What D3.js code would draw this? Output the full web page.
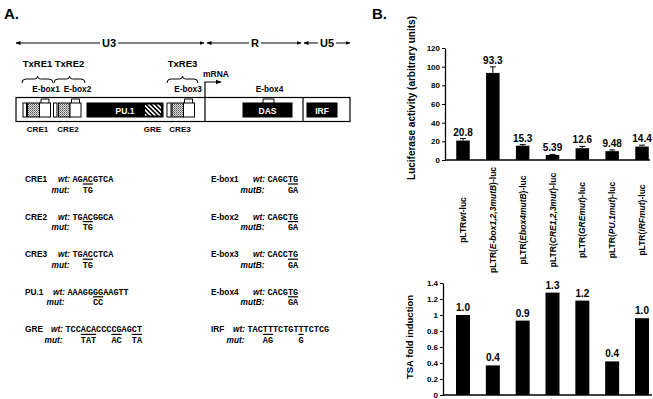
<!DOCTYPE html>
<html lang="en">
<head>
<meta charset="utf-8">
<title>HTLV-1 LTR reporter constructs</title>
<script src="https://d3js.org/d3.v7.min.js"></script>
<style>
  body { margin: 0; background: #fff; }
  text { font-family: "Liberation Sans", Arial, sans-serif; font-weight: bold; }
  .seq { font-family: "Liberation Mono", "Courier New", monospace; }
</style>
</head>
<body>
<script>
// ---- chart data (panel B) ----
var constructs = ["wt", "E-box1,2,3mutB", "Ebox4mutB", "CRE1,2,3mut", "GREmut", "PU.1mut", "IRFmut"];
var lucValues = [20.8, 93.3, 15.3, 5.39, 12.6, 9.48, 14.4];
var lucErrors = [2.2, 6.5, 1.2, 0.6, 2.0, 1.3, 1.5];
var lucLabels = ["20.8", "93.3", "15.3", "5.39", "12.6", "9.48", "14.4"];
var lucTicks = [0, 20, 40, 60, 80, 100, 120];
var tsaValues = [1.0, 0.37, 0.93, 1.28, 1.18, 0.42, 0.96];
var tsaLabels = ["1.0", "0.4", "0.9", "1.3", "1.2", "0.4", "1.0"];
var tsaTicks = [0, 0.2, 0.4, 0.6, 0.8, 1, 1.2, 1.4];

// ---- sequence data (panel A) ----
var seqLeft = [
  {name: "CRE1", lab: "mut:", wt: "AGACGTCA", mut: "  TG"},
  {name: "CRE2", lab: "mut:", wt: "TGACGGCA", mut: "  TG"},
  {name: "CRE3", lab: "mut:", wt: "TGACCTCA", mut: "  TG"},
  {name: "PU.1", lab: "mut:", wt: "AAAGGGGAAGTT", mut: "     CC"},
  {name: "GRE",  lab: "mut:", wt: "TCCACACCCCGAGCT", mut: "   TAT   AC  TA"}
];
var seqRight = [
  {name: "E-box1", lab: "mutB:", wt: "CAGCTG", mut: "    GA"},
  {name: "E-box2", lab: "mutB:", wt: "CAGCTG", mut: "    GA"},
  {name: "E-box3", lab: "mutB:", wt: "CACCTG", mut: "    GA"},
  {name: "E-box4", lab: "mutB:", wt: "CACGTG", mut: "    GA"},
  {name: "IRF",    lab: "mut:",  wt: "TACTTTCTGTTTCTCG", mut: "   AG     G"}
];
// where the "wt:" label starts on each row
var wtLabelX = {"CRE1": 58, "CRE2": 58, "CRE3": 58, "PU.1": 53, "GRE": 51,
  "E-box1": 253, "E-box2": 253, "E-box3": 253, "E-box4": 253, "IRF": 233};

var svg = d3.select("body").append("svg")
    .attr("width", 653).attr("height", 399);
svg.append("rect").attr("width", 653).attr("height", 399).attr("fill", "#fff");

var defs = svg.append("defs");
var stip = defs.append("pattern").attr("id", "stip")
    .attr("width", 2).attr("height", 2).attr("patternUnits", "userSpaceOnUse");
stip.append("rect").attr("width", 2).attr("height", 2).attr("fill", "#ddd");
stip.append("rect").attr("width", 1).attr("height", 1).attr("fill", "#555");
stip.append("rect").attr("x", 1).attr("y", 1).attr("width", 1).attr("height", 1).attr("fill", "#888");
var hatch = defs.append("pattern").attr("id", "hatch")
    .attr("width", 3.2).attr("height", 3.2).attr("patternUnits", "userSpaceOnUse")
    .attr("patternTransform", "rotate(-45)");
hatch.append("rect").attr("width", 3.2).attr("height", 3.2).attr("fill", "#fff");
hatch.append("rect").attr("width", 1.6).attr("height", 3.2).attr("fill", "#000");
defs.append("marker").attr("id", "ah")
    .attr("viewBox", "0 0 10 10").attr("refX", 9).attr("refY", 5)
    .attr("markerWidth", 5).attr("markerHeight", 5).attr("orient", "auto-start-reverse")
    .append("path").attr("d", "M0,1 L10,5 L0,9 z").attr("fill", "#000");

// panel letters
svg.append("text").attr("x", 4).attr("y", 19).attr("font-size", 15).text("A.");
svg.append("text").attr("x", 372).attr("y", 19).attr("font-size", 15).text("B.");

// ================= Panel A: LTR schematic =================
var A = svg.append("g");

// U3 / R / U5 arrows
[[16, 204, 109, "U3"], [207, 301, 255, "R"], [304, 350, 327, "U5"]].forEach(function(r) {
  A.append("line").attr("x1", r[0]).attr("x2", r[1]).attr("y1", 43).attr("y2", 43)
    .attr("stroke", "#000").attr("stroke-width", 1)
    .attr("marker-start", "url(#ah)").attr("marker-end", "url(#ah)");
  var t = A.append("text").attr("x", r[2]).attr("y", 47).attr("font-size", 11)
    .attr("text-anchor", "middle").text(r[3]);
  var bb = t.node().getBBox();
  A.insert("rect", function() { return t.node(); })
    .attr("x", bb.x - 2).attr("y", bb.y).attr("width", bb.width + 4).attr("height", bb.height)
    .attr("fill", "#fff");
});

// TxRE braces
function brace(x0, x1, y) {
  var m = (x0 + x1) / 2;
  return "M" + x0 + "," + (y + 4) + " Q" + x0 + "," + y + " " + (x0 + 4) + "," + y +
    " L" + (m - 3) + "," + y + " Q" + m + "," + y + " " + m + "," + (y - 3) +
    " Q" + m + "," + y + " " + (m + 3) + "," + y +
    " L" + (x1 - 4) + "," + y + " Q" + x1 + "," + y + " " + x1 + "," + (y + 4);
}
[[22, 53, "TxRE1"], [54, 85, "TxRE2"], [167, 198, "TxRE3"]].forEach(function(b) {
  A.append("path").attr("d", brace(b[0], b[1], 79)).attr("fill", "none")
    .attr("stroke", "#000").attr("stroke-width", 1);
  A.append("text").attr("x", (b[0] + b[1]) / 2).attr("y", 67).attr("font-size", 9.5)
    .attr("text-anchor", "middle").text(b[2]);
});

// E-box labels
[[46, "E-box1"], [77.5, "E-box2"], [188, "E-box3"], [269.5, "E-box4"]].forEach(function(e) {
  A.append("text").attr("x", e[0]).attr("y", 92).attr("font-size", 8.3)
    .attr("text-anchor", "middle").text(e[1]);
});

// main box
A.append("rect").attr("x", 16).attr("y", 97.5).attr("width", 334).attr("height", 24)
  .attr("fill", "#fff").attr("stroke", "#000").attr("stroke-width", 1.2);
A.append("line").attr("x1", 303).attr("x2", 303).attr("y1", 97.5).attr("y2", 121.5)
  .attr("stroke", "#000").attr("stroke-width", 1.2);
// transcription start / mRNA
A.append("path").attr("d", "M205,121.5 V82 H221").attr("fill", "none")
  .attr("stroke", "#000").attr("stroke-width", 1.2).attr("marker-end", "url(#ah)");
A.append("text").attr("x", 203).attr("y", 77).attr("font-size", 8.5).text("mRNA");

// inner elements
var parts = [
  [23, 26.5, "#fff"], [27.5, 39.5, "url(#stip)"], [39.5, 50.5, "#fff"],
  [53.5, 57, "#fff"], [58.5, 70, "url(#stip)"], [70, 81, "#fff"],
  [87, 163, "#000"],
  [167, 171, "#fff"], [172, 183.5, "url(#stip)"], [183.5, 194.5, "#fff"],
  [243, 292, "#000"], [307, 337, "#000"]
];
A.selectAll("rect.part").data(parts).enter().append("rect").attr("class", "part")
  .attr("x", function(d) { return d[0]; }).attr("width", function(d) { return d[1] - d[0]; })
  .attr("y", 103).attr("height", 14)
  .attr("fill", function(d) { return d[2]; })
  .attr("stroke", "#000").attr("stroke-width", 1);
A.append("rect").attr("x", 145).attr("y", 104.5).attr("width", 16).attr("height", 11)
  .attr("fill", "url(#hatch)");
[[125, "PU.1"], [267.5, "DAS"], [322, "IRF"]].forEach(function(t) {
  A.append("text").attr("x", t[0]).attr("y", 113.5).attr("font-size", 8.5)
    .attr("text-anchor", "middle").attr("fill", "#fff").text(t[1]);
});
// E-box brackets
[[41, 49], [71.5, 79.5], [184.5, 192.5], [263, 274]].forEach(function(b) {
  A.append("path").attr("d", "M" + b[0] + ",103 V99 H" + b[1] + " V103")
    .attr("fill", "none").attr("stroke", "#000").attr("stroke-width", 1);
});
// labels below the box
[[37.5, "CRE1"], [68, "CRE2"], [152.5, "GRE"], [180, "CRE3"]].forEach(function(c) {
  A.append("text").attr("x", c[0]).attr("y", 132).attr("font-size", 8)
    .attr("text-anchor", "middle").text(c[1]);
});

// ---- sequences ----
var charW = 8.5 * 0.6;
function drawSeqs(rows, nameX) {
  rows.forEach(function(r, i) {
    var y = 182 + i * 37.6;
    var wx = wtLabelX[r.name];
    var sx = wx + 14.5;
    A.append("text").attr("x", nameX).attr("y", y).attr("font-size", 8.3).text(r.name);
    A.append("text").attr("x", wx).attr("y", y).attr("font-size", 8.3)
      .attr("font-style", "italic").text("wt:");
    A.append("text").attr("class", "seq").attr("x", sx).attr("y", y)
      .attr("font-size", 8.5).text(r.wt);
    A.append("text").attr("x", sx - 3).attr("y", y + 10.5).attr("font-size", 8.3)
      .attr("font-style", "italic").attr("text-anchor", "end").text(r.lab);
    A.append("text").attr("class", "seq").attr("x", sx).attr("y", y + 10.5)
      .attr("font-size", 8.5).attr("xml:space", "preserve")
      .style("white-space", "pre").text(r.mut);
    // mark mutated positions
    var re = /\S+/g, m;
    while ((m = re.exec(r.mut)) !== null) {
      A.append("line")
        .attr("x1", sx + m.index * charW).attr("x2", sx + (m.index + m[0].length) * charW)
        .attr("y1", y + 2).attr("y2", y + 2)
        .attr("stroke", "#000").attr("stroke-width", 1.2);
    }
  });
}
drawSeqs(seqLeft, 25);
drawSeqs(seqRight, 211);

// ================= Panel B =================
var x = d3.scalePoint().domain(d3.range(constructs.length)).range([463, 642]);
var barW = 13.5;

// --- luciferase ---
var yL = d3.scaleLinear().domain([0, 120]).range([160, 48]);
var gL = svg.append("g").attr("transform", "translate(445,0)")
  .call(d3.axisLeft(yL).tickValues(lucTicks).tickSize(3).tickSizeOuter(0).tickPadding(2));
gL.selectAll("text").attr("font-size", 8).attr("font-family", null);
gL.select(".domain").attr("stroke-width", 1.3);
svg.append("line").attr("x1", 445).attr("x2", 650).attr("y1", 160).attr("y2", 160)
  .attr("stroke", "#000").attr("stroke-width", 1.5);

svg.selectAll("rect.luc").data(lucValues).enter().append("rect").attr("class", "luc")
  .attr("x", function(d, i) { return x(i) - barW / 2; })
  .attr("y", function(d) { return yL(d); })
  .attr("width", barW)
  .attr("height", function(d) { return yL(0) - yL(d); })
  .attr("fill", "#000");
svg.selectAll("path.err").data(lucValues).enter().append("path").attr("class", "err")
  .attr("d", function(d, i) {
    var t = yL(d + lucErrors[i]), c = x(i);
    return "M" + c + "," + yL(d) + " V" + t + " M" + (c - 3) + "," + t + " H" + (c + 3);
  })
  .attr("stroke", "#000").attr("stroke-width", 1).attr("fill", "none");
svg.selectAll("text.lucv").data(lucValues).enter().append("text").attr("class", "lucv")
  .attr("x", function(d, i) { return x(i); })
  .attr("y", function(d, i) { return yL(d + lucErrors[i]) - 3; })
  .attr("text-anchor", "middle").attr("font-size", 10)
  .text(function(d, i) { return lucLabels[i]; });

svg.append("text").attr("transform", "translate(415,98) rotate(-90)")
  .attr("text-anchor", "middle").attr("font-size", 10).text("Luciferase activity (arbitrary units)");

// construct labels
svg.selectAll("text.cons").data(constructs).enter().append("text").attr("class", "cons")
  .attr("transform", function(d, i) { return "translate(" + (x(i) + 3) + ",220) rotate(-90)"; })
  .attr("text-anchor", "middle").attr("font-size", 8.5)
  .each(function(d, i) {
    var t = d3.select(this);
    t.append("tspan").text(i === 0 ? "pLTR" : "pLTR(");
    t.append("tspan").attr("font-style", "italic").text(d);
    t.append("tspan").text(i === 0 ? "-luc" : ")-luc");
  });

// --- TSA fold induction ---
var yT = d3.scaleLinear().domain([0, 1.4]).range([395, 283]);
var gT = svg.append("g").attr("transform", "translate(443,0)")
  .call(d3.axisLeft(yT).tickValues(tsaTicks).tickSize(3).tickSizeOuter(0).tickPadding(2)
    .tickFormat(d3.format("~g")));
gT.selectAll("text").attr("font-size", 8).attr("font-family", null);
gT.select(".domain").attr("stroke-width", 1.3);
svg.append("line").attr("x1", 443).attr("x2", 652).attr("y1", 395).attr("y2", 395)
  .attr("stroke", "#000").attr("stroke-width", 1.5);

svg.selectAll("rect.tsa").data(tsaValues).enter().append("rect").attr("class", "tsa")
  .attr("x", function(d, i) { return x(i) - 7; })
  .attr("y", function(d) { return yT(d); })
  .attr("width", 14)
  .attr("height", function(d) { return yT(0) - yT(d); })
  .attr("fill", "#000");
svg.selectAll("text.tsav").data(tsaValues).enter().append("text").attr("class", "tsav")
  .attr("x", function(d, i) { return x(i); })
  .attr("y", function(d) { return yT(d) - 4; })
  .attr("text-anchor", "middle").attr("font-size", 10)
  .text(function(d, i) { return tsaLabels[i]; });

svg.append("text").attr("transform", "translate(413,337) rotate(-90)")
  .attr("text-anchor", "middle").attr("font-size", 9.5).text("TSA fold induction");
</script>
</body>
</html>
